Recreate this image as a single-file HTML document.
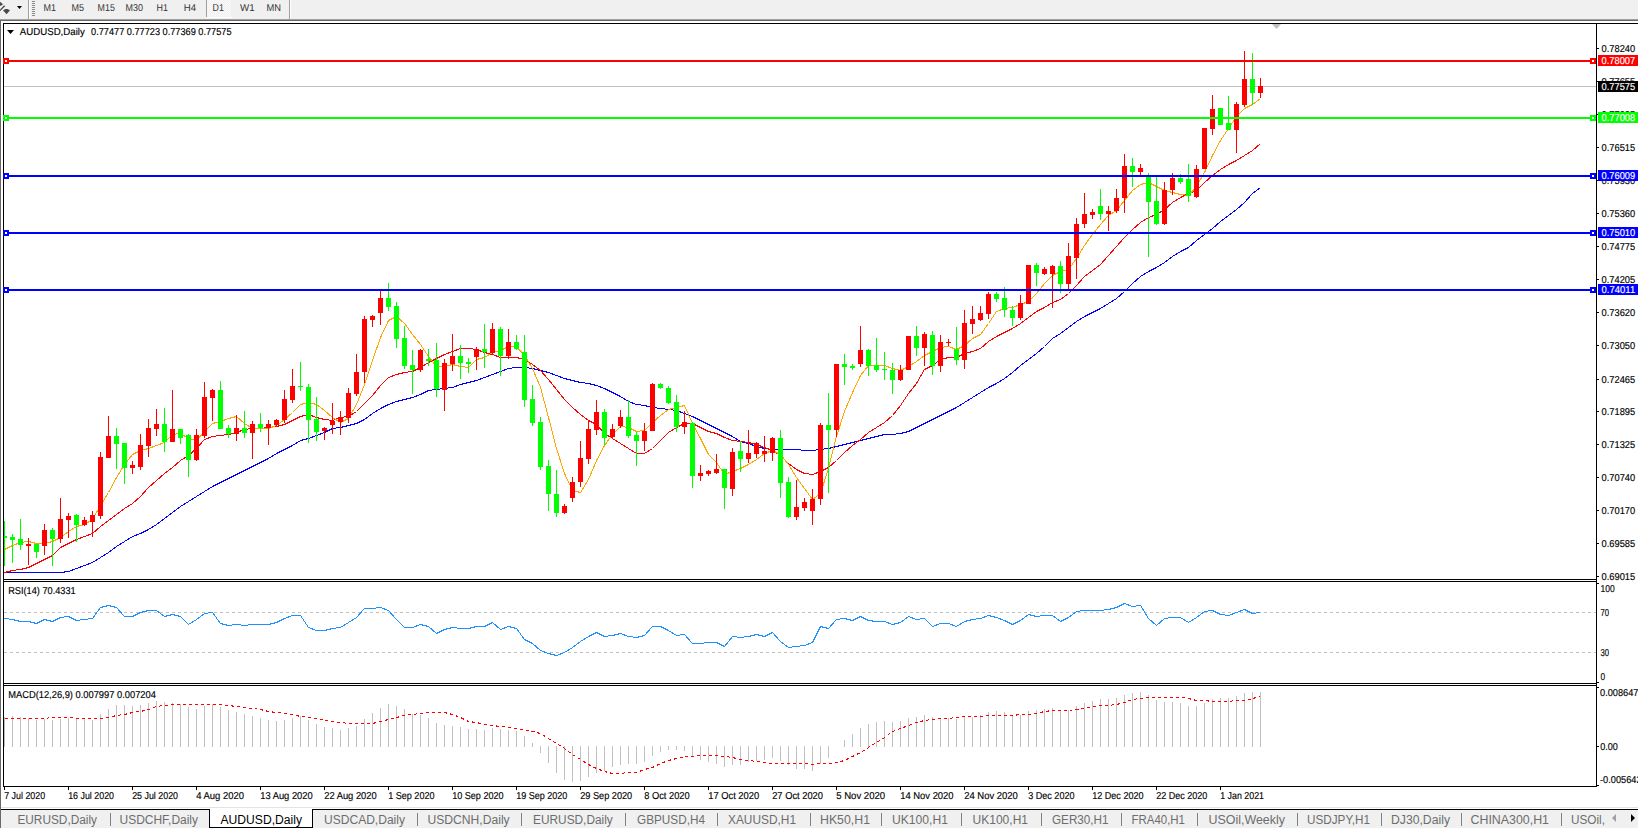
<!DOCTYPE html><html><head><meta charset="utf-8"><style>html,body{margin:0;padding:0;overflow:hidden;background:#f0f0f0;}svg{display:block;}text{font-family:"Liberation Sans", sans-serif;}</style></head><body>
<svg width="1638" height="828" viewBox="0 0 1638 828">
<defs><clipPath id="cm"><rect x="4" y="24" width="1592" height="555"/></clipPath><clipPath id="cr"><rect x="4" y="582" width="1592" height="101"/></clipPath><clipPath id="cd"><rect x="4" y="686" width="1592" height="100"/></clipPath><pattern id="dith" width="2" height="2" patternUnits="userSpaceOnUse"><rect width="2" height="2" fill="#f0f0f0"/><rect width="1" height="1" fill="#fafafa"/><rect x="1" y="1" width="1" height="1" fill="#fafafa"/></pattern></defs>
<g shape-rendering="crispEdges">
<rect x="0" y="0" width="1638" height="19" fill="#f0f0f0"/>
<rect x="0" y="19" width="1638" height="1" fill="#a0a0a0"/>
<rect x="0" y="20" width="1638" height="1" fill="#696969"/>
<path d="M0 1.8 L3 4.3 L1 5.8 L0 5.8 Z" fill="#4a4a4a" shape-rendering="auto"/>
<path d="M0 9.6 L4.2 5.2 L5.2 6.2 L0 11.2 Z" fill="#4a4a4a" shape-rendering="auto"/>
<path d="M3 10.2 L5.5 9 L7.5 9 L10 10.2 L6.5 14.2 Z" fill="#4a4a4a" shape-rendering="auto"/>
<path d="M17 6 L22 6 L19.5 9 Z" fill="#000" shape-rendering="auto"/>
<rect x="28" y="0" width="1" height="19" fill="#a0a0a0"/>
<rect x="29" y="0" width="1" height="19" fill="#ffffff"/>
<rect x="32" y="1" width="3" height="1" fill="#8c8c8c"/>
<rect x="32" y="3" width="3" height="1" fill="#8c8c8c"/>
<rect x="32" y="5" width="3" height="1" fill="#8c8c8c"/>
<rect x="32" y="7" width="3" height="1" fill="#8c8c8c"/>
<rect x="32" y="9" width="3" height="1" fill="#8c8c8c"/>
<rect x="32" y="11" width="3" height="1" fill="#8c8c8c"/>
<rect x="32" y="13" width="3" height="1" fill="#8c8c8c"/>
<rect x="32" y="15" width="3" height="1" fill="#8c8c8c"/>
<rect x="207" y="0" width="24" height="17" fill="url(#dith)"/>
<rect x="206" y="0" width="1" height="17" fill="#a0a0a0"/>
<rect x="206" y="17" width="26" height="1" fill="#ffffff"/>
<rect x="289" y="0" width="1" height="19" fill="#a0a0a0"/>
<rect x="290" y="0" width="1" height="19" fill="#ffffff"/>
</g>
<text x="43.4" y="11" font-size="10" fill="#333333" text-rendering="geometricPrecision" textLength="12.5" lengthAdjust="spacingAndGlyphs">M1</text>
<text x="71.4" y="11" font-size="10" fill="#333333" text-rendering="geometricPrecision" textLength="12.5" lengthAdjust="spacingAndGlyphs">M5</text>
<text x="97.6" y="11" font-size="10" fill="#333333" text-rendering="geometricPrecision" textLength="17.2" lengthAdjust="spacingAndGlyphs">M15</text>
<text x="125.5" y="11" font-size="10" fill="#333333" text-rendering="geometricPrecision" textLength="17.4" lengthAdjust="spacingAndGlyphs">M30</text>
<text x="156.6" y="11" font-size="10" fill="#333333" text-rendering="geometricPrecision" textLength="11.4" lengthAdjust="spacingAndGlyphs">H1</text>
<text x="183.7" y="11" font-size="10" fill="#333333" text-rendering="geometricPrecision" textLength="12.3" lengthAdjust="spacingAndGlyphs">H4</text>
<text x="212.5" y="11" font-size="10" fill="#333333" text-rendering="geometricPrecision" textLength="11.3" lengthAdjust="spacingAndGlyphs">D1</text>
<text x="240" y="11" font-size="10" fill="#333333" text-rendering="geometricPrecision" textLength="14.6" lengthAdjust="spacingAndGlyphs">W1</text>
<text x="266.5" y="11" font-size="10" fill="#333333" text-rendering="geometricPrecision" textLength="14.5" lengthAdjust="spacingAndGlyphs">MN</text>
<g shape-rendering="crispEdges">
<rect x="1" y="21" width="1637" height="787" fill="#ffffff"/>
<rect x="0" y="20" width="1" height="788" fill="#696969"/>
<rect x="1" y="807" width="1637" height="1" fill="#e3e3e3"/>
<rect x="3" y="23" width="1635" height="1" fill="#000"/>
<rect x="3" y="23" width="1" height="764" fill="#000"/>
<rect x="1596" y="23" width="1" height="764" fill="#000"/>
<rect x="3" y="579" width="1594" height="1" fill="#000"/>
<rect x="3" y="581" width="1594" height="1" fill="#000"/>
<rect x="3" y="683" width="1594" height="1" fill="#000"/>
<rect x="3" y="685" width="1594" height="1" fill="#000"/>
<rect x="3" y="786" width="1594" height="1" fill="#000"/>
</g>
<path d="M1272 24 L1281 24 L1276.5 29 Z" fill="#c0c0c0"/>
<g shape-rendering="crispEdges">
<g clip-path="url(#cm)">
<rect x="4" y="86" width="1592" height="1" fill="#c0c0c0"/>
<polyline points="4.5,572.5 12.5,572.5 20.5,572.5 28.5,572.5 36.5,572.5 44.5,572.5 52.5,572.5 60.5,572.5 68.5,571.5 76.5,568.5 84.5,565.5 92.5,562.5 100.5,557.5 108.5,552.5 116.5,546.5 124.5,541.5 132.5,536.5 140.5,533.5 148.5,529.5 156.5,524.5 164.5,518.5 172.5,512.5 180.5,506.5 188.5,501.5 196.5,496.5 204.5,491.5 212.5,486.5 220.5,482.5 228.5,478.5 236.5,474.5 244.5,470.5 252.5,466.5 260.5,462.5 268.5,458.5 276.5,453.5 284.5,449.5 292.5,445.5 300.5,440.5 308.5,438.5 316.5,435.5 324.5,432.5 332.5,428.5 340.5,427.5 348.5,425.5 356.5,423.5 364.5,419.5 372.5,413.5 380.5,408.5 388.5,404.5 396.5,401.5 404.5,399.5 412.5,397.5 420.5,394.5 428.5,390.5 436.5,389.5 444.5,388.5 452.5,387.5 460.5,384.5 468.5,382.5 476.5,380.5 484.5,377.5 492.5,374.5 500.5,371.5 508.5,368.5 516.5,367.5 524.5,367.5 532.5,368.5 540.5,370.5 548.5,372.5 556.5,375.5 564.5,378.5 572.5,380.5 580.5,382.5 588.5,383.5 596.5,385.5 604.5,388.5 612.5,392.5 620.5,396.5 628.5,401.5 636.5,404.5 644.5,405.5 652.5,407.5 660.5,408.5 668.5,409.5 676.5,410.5 684.5,413.5 692.5,416.5 700.5,420.5 708.5,424.5 716.5,428.5 724.5,432.5 732.5,436.5 740.5,441.5 748.5,443.5 756.5,446.5 764.5,448.5 772.5,449.5 780.5,449.5 788.5,449.5 796.5,449.5 804.5,450.5 812.5,450.5 820.5,449.5 828.5,448.5 836.5,446.5 844.5,444.5 852.5,442.5 860.5,440.5 868.5,438.5 876.5,436.5 884.5,434.5 892.5,434.5 900.5,433.5 908.5,431.5 916.5,427.5 924.5,423.5 932.5,419.5 940.5,415.5 948.5,411.5 956.5,407.5 964.5,402.5 972.5,397.5 980.5,392.5 988.5,387.5 996.5,383.5 1004.5,378.5 1012.5,372.5 1020.5,365.5 1028.5,359.5 1036.5,353.5 1044.5,346.5 1052.5,338.5 1060.5,333.5 1068.5,327.5 1076.5,321.5 1084.5,316.5 1092.5,312.5 1100.5,308.5 1108.5,303.5 1116.5,298.5 1124.5,291.5 1132.5,283.5 1140.5,276.5 1148.5,271.5 1156.5,267.5 1164.5,262.5 1172.5,256.5 1180.5,251.5 1188.5,247.5 1196.5,240.5 1204.5,234.5 1212.5,228.5 1220.5,221.5 1228.5,215.5 1236.5,209.5 1244.5,202.5 1252.5,193.5 1260.5,187.5" fill="none" stroke="#0000ff" stroke-width="1"/>
<polyline points="4.5,572.5 12.5,570.5 20.5,569.5 28.5,567.5 36.5,563.5 44.5,559.5 52.5,555.5 60.5,547.5 68.5,543.5 76.5,539.5 84.5,536.5 92.5,533.5 100.5,526.5 108.5,520.5 116.5,514.5 124.5,508.5 132.5,503.5 140.5,496.5 148.5,487.5 156.5,480.5 164.5,473.5 172.5,467.5 180.5,460.5 188.5,455.5 196.5,448.5 204.5,439.5 212.5,436.5 220.5,435.5 228.5,434.5 236.5,432.5 244.5,429.5 252.5,428.5 260.5,428.5 268.5,427.5 276.5,426.5 284.5,424.5 292.5,420.5 300.5,416.5 308.5,414.5 316.5,417.5 324.5,419.5 332.5,420.5 340.5,417.5 348.5,416.5 356.5,411.5 364.5,403.5 372.5,395.5 380.5,385.5 388.5,377.5 396.5,374.5 404.5,372.5 412.5,371.5 420.5,367.5 428.5,362.5 436.5,358.5 444.5,354.5 452.5,351.5 460.5,348.5 468.5,348.5 476.5,349.5 484.5,352.5 492.5,354.5 500.5,357.5 508.5,357.5 516.5,357.5 524.5,359.5 532.5,364.5 540.5,370.5 548.5,379.5 556.5,389.5 564.5,399.5 572.5,407.5 580.5,414.5 588.5,420.5 596.5,424.5 604.5,433.5 612.5,438.5 620.5,443.5 628.5,448.5 636.5,453.5 644.5,453.5 652.5,448.5 660.5,440.5 668.5,432.5 676.5,427.5 684.5,423.5 692.5,423.5 700.5,427.5 708.5,431.5 716.5,433.5 724.5,437.5 732.5,440.5 740.5,441.5 748.5,442.5 756.5,444.5 764.5,447.5 772.5,450.5 780.5,455.5 788.5,463.5 796.5,469.5 804.5,473.5 812.5,474.5 820.5,471.5 828.5,467.5 836.5,460.5 844.5,452.5 852.5,445.5 860.5,439.5 868.5,432.5 876.5,427.5 884.5,422.5 892.5,415.5 900.5,405.5 908.5,393.5 916.5,383.5 924.5,369.5 932.5,365.5 940.5,359.5 948.5,357.5 956.5,357.5 964.5,353.5 972.5,351.5 980.5,348.5 988.5,341.5 996.5,336.5 1004.5,332.5 1012.5,328.5 1020.5,323.5 1028.5,317.5 1036.5,311.5 1044.5,307.5 1052.5,302.5 1060.5,299.5 1068.5,293.5 1076.5,285.5 1084.5,276.5 1092.5,270.5 1100.5,264.5 1108.5,255.5 1116.5,246.5 1124.5,237.5 1132.5,229.5 1140.5,222.5 1148.5,217.5 1156.5,214.5 1164.5,209.5 1172.5,202.5 1180.5,197.5 1188.5,193.5 1196.5,190.5 1204.5,182.5 1212.5,175.5 1220.5,169.5 1228.5,164.5 1236.5,160.5 1244.5,155.5 1252.5,150.5 1260.5,143.5" fill="none" stroke="#ff0000" stroke-width="1"/>
<polyline points="4.5,549.5 12.5,545.5 20.5,542.5 28.5,541.5 36.5,543.5 44.5,543.5 52.5,541.5 60.5,537.5 68.5,531.5 76.5,526.5 84.5,524.5 92.5,519.5 100.5,505.5 108.5,492.5 116.5,477.5 124.5,464.5 132.5,454.5 140.5,450.5 148.5,448.5 156.5,445.5 164.5,442.5 172.5,434.5 180.5,433.5 188.5,438.5 196.5,440.5 204.5,431.5 212.5,423.5 220.5,421.5 228.5,418.5 236.5,416.5 244.5,423.5 252.5,428.5 260.5,428.5 268.5,428.5 276.5,425.5 284.5,419.5 292.5,412.5 300.5,404.5 308.5,402.5 316.5,404.5 324.5,410.5 332.5,417.5 340.5,422.5 348.5,418.5 356.5,404.5 364.5,384.5 372.5,360.5 380.5,337.5 388.5,320.5 396.5,316.5 404.5,323.5 412.5,334.5 420.5,344.5 428.5,356.5 436.5,366.5 444.5,366.5 452.5,364.5 460.5,366.5 468.5,367.5 476.5,359.5 484.5,357.5 492.5,352.5 500.5,350.5 508.5,346.5 516.5,346.5 524.5,355.5 532.5,368.5 540.5,387.5 548.5,417.5 556.5,448.5 564.5,473.5 572.5,490.5 580.5,492.5 588.5,479.5 596.5,460.5 604.5,445.5 612.5,434.5 620.5,426.5 628.5,427.5 636.5,431.5 644.5,430.5 652.5,422.5 660.5,415.5 668.5,409.5 676.5,407.5 684.5,405.5 692.5,423.5 700.5,438.5 708.5,454.5 716.5,462.5 724.5,474.5 732.5,471.5 740.5,468.5 748.5,464.5 756.5,459.5 764.5,453.5 772.5,450.5 780.5,454.5 788.5,464.5 796.5,477.5 804.5,488.5 812.5,499.5 820.5,493.5 828.5,468.5 836.5,436.5 844.5,411.5 852.5,392.5 860.5,375.5 868.5,365.5 876.5,365.5 884.5,365.5 892.5,368.5 900.5,370.5 908.5,366.5 916.5,361.5 924.5,355.5 932.5,351.5 940.5,347.5 948.5,346.5 956.5,349.5 964.5,345.5 972.5,338.5 980.5,334.5 988.5,323.5 996.5,311.5 1004.5,308.5 1012.5,307.5 1020.5,304.5 1028.5,301.5 1036.5,293.5 1044.5,283.5 1052.5,275.5 1060.5,271.5 1068.5,269.5 1076.5,258.5 1084.5,245.5 1092.5,234.5 1100.5,224.5 1108.5,215.5 1116.5,210.5 1124.5,200.5 1132.5,190.5 1140.5,184.5 1148.5,182.5 1156.5,186.5 1164.5,190.5 1172.5,192.5 1180.5,194.5 1188.5,195.5 1196.5,186.5 1204.5,172.5 1212.5,155.5 1220.5,140.5 1228.5,128.5 1236.5,116.5 1244.5,108.5 1252.5,104.5 1260.5,98.5" fill="none" stroke="#ffa500" stroke-width="1"/>
<rect x="4" y="521" width="1" height="45" fill="#00ff00"/>
<rect x="2" y="536" width="5" height="2" fill="#00ff00"/>
<rect x="12" y="534" width="1" height="29" fill="#00ff00"/>
<rect x="10" y="537" width="5" height="3" fill="#00ff00"/>
<rect x="20" y="519" width="1" height="31" fill="#00ff00"/>
<rect x="18" y="539" width="5" height="6" fill="#00ff00"/>
<rect x="28" y="538" width="1" height="27" fill="#ff0000"/>
<rect x="26" y="544" width="5" height="2" fill="#ff0000"/>
<rect x="36" y="544" width="1" height="14" fill="#00ff00"/>
<rect x="34" y="544" width="5" height="8" fill="#00ff00"/>
<rect x="44" y="524" width="1" height="31" fill="#ff0000"/>
<rect x="42" y="530" width="5" height="16" fill="#ff0000"/>
<rect x="52" y="528" width="1" height="38" fill="#00ff00"/>
<rect x="50" y="530" width="5" height="9" fill="#00ff00"/>
<rect x="60" y="498" width="1" height="45" fill="#ff0000"/>
<rect x="58" y="519" width="5" height="20" fill="#ff0000"/>
<rect x="68" y="513" width="1" height="25" fill="#ff0000"/>
<rect x="66" y="516" width="5" height="4" fill="#ff0000"/>
<rect x="76" y="514" width="1" height="28" fill="#00ff00"/>
<rect x="74" y="515" width="5" height="10" fill="#00ff00"/>
<rect x="84" y="517" width="1" height="9" fill="#ff0000"/>
<rect x="82" y="520" width="5" height="5" fill="#ff0000"/>
<rect x="92" y="511" width="1" height="26" fill="#ff0000"/>
<rect x="90" y="515" width="5" height="7" fill="#ff0000"/>
<rect x="100" y="452" width="1" height="67" fill="#ff0000"/>
<rect x="98" y="457" width="5" height="59" fill="#ff0000"/>
<rect x="108" y="416" width="1" height="42" fill="#ff0000"/>
<rect x="106" y="436" width="5" height="22" fill="#ff0000"/>
<rect x="116" y="428" width="1" height="41" fill="#00ff00"/>
<rect x="114" y="436" width="5" height="8" fill="#00ff00"/>
<rect x="124" y="443" width="1" height="41" fill="#00ff00"/>
<rect x="122" y="443" width="5" height="25" fill="#00ff00"/>
<rect x="132" y="461" width="1" height="13" fill="#ff0000"/>
<rect x="130" y="465" width="5" height="3" fill="#ff0000"/>
<rect x="140" y="434" width="1" height="36" fill="#ff0000"/>
<rect x="138" y="445" width="5" height="22" fill="#ff0000"/>
<rect x="148" y="419" width="1" height="38" fill="#ff0000"/>
<rect x="146" y="428" width="5" height="18" fill="#ff0000"/>
<rect x="156" y="409" width="1" height="27" fill="#ff0000"/>
<rect x="154" y="424" width="5" height="5" fill="#ff0000"/>
<rect x="164" y="408" width="1" height="44" fill="#00ff00"/>
<rect x="162" y="424" width="5" height="18" fill="#00ff00"/>
<rect x="172" y="390" width="1" height="52" fill="#ff0000"/>
<rect x="170" y="429" width="5" height="13" fill="#ff0000"/>
<rect x="180" y="429" width="1" height="15" fill="#00ff00"/>
<rect x="178" y="429" width="5" height="9" fill="#00ff00"/>
<rect x="188" y="434" width="1" height="43" fill="#00ff00"/>
<rect x="186" y="435" width="5" height="25" fill="#00ff00"/>
<rect x="196" y="429" width="1" height="32" fill="#ff0000"/>
<rect x="194" y="435" width="5" height="25" fill="#ff0000"/>
<rect x="204" y="382" width="1" height="56" fill="#ff0000"/>
<rect x="202" y="397" width="5" height="39" fill="#ff0000"/>
<rect x="212" y="389" width="1" height="32" fill="#ff0000"/>
<rect x="210" y="390" width="5" height="8" fill="#ff0000"/>
<rect x="220" y="381" width="1" height="48" fill="#00ff00"/>
<rect x="218" y="390" width="5" height="39" fill="#00ff00"/>
<rect x="228" y="425" width="1" height="13" fill="#00ff00"/>
<rect x="226" y="428" width="5" height="6" fill="#00ff00"/>
<rect x="236" y="415" width="1" height="26" fill="#ff0000"/>
<rect x="234" y="428" width="5" height="6" fill="#ff0000"/>
<rect x="244" y="411" width="1" height="27" fill="#00ff00"/>
<rect x="242" y="428" width="5" height="5" fill="#00ff00"/>
<rect x="252" y="421" width="1" height="38" fill="#ff0000"/>
<rect x="250" y="424" width="5" height="9" fill="#ff0000"/>
<rect x="260" y="413" width="1" height="19" fill="#00ff00"/>
<rect x="258" y="424" width="5" height="4" fill="#00ff00"/>
<rect x="268" y="420" width="1" height="25" fill="#ff0000"/>
<rect x="266" y="424" width="5" height="4" fill="#ff0000"/>
<rect x="276" y="419" width="1" height="7" fill="#ff0000"/>
<rect x="274" y="420" width="5" height="5" fill="#ff0000"/>
<rect x="284" y="390" width="1" height="33" fill="#ff0000"/>
<rect x="282" y="399" width="5" height="21" fill="#ff0000"/>
<rect x="292" y="369" width="1" height="34" fill="#ff0000"/>
<rect x="290" y="386" width="5" height="14" fill="#ff0000"/>
<rect x="300" y="362" width="1" height="29" fill="#00ff00"/>
<rect x="298" y="386" width="5" height="1" fill="#00ff00"/>
<rect x="308" y="384" width="1" height="59" fill="#00ff00"/>
<rect x="306" y="387" width="5" height="33" fill="#00ff00"/>
<rect x="316" y="397" width="1" height="44" fill="#00ff00"/>
<rect x="314" y="419" width="5" height="13" fill="#00ff00"/>
<rect x="324" y="427" width="1" height="13" fill="#ff0000"/>
<rect x="322" y="428" width="5" height="3" fill="#ff0000"/>
<rect x="332" y="403" width="1" height="31" fill="#ff0000"/>
<rect x="330" y="421" width="5" height="4" fill="#ff0000"/>
<rect x="340" y="411" width="1" height="24" fill="#ff0000"/>
<rect x="338" y="417" width="5" height="5" fill="#ff0000"/>
<rect x="348" y="388" width="1" height="35" fill="#ff0000"/>
<rect x="346" y="393" width="5" height="25" fill="#ff0000"/>
<rect x="356" y="354" width="1" height="42" fill="#ff0000"/>
<rect x="354" y="372" width="5" height="22" fill="#ff0000"/>
<rect x="364" y="316" width="1" height="67" fill="#ff0000"/>
<rect x="362" y="319" width="5" height="53" fill="#ff0000"/>
<rect x="372" y="315" width="1" height="12" fill="#ff0000"/>
<rect x="370" y="316" width="5" height="4" fill="#ff0000"/>
<rect x="380" y="291" width="1" height="34" fill="#ff0000"/>
<rect x="378" y="298" width="5" height="15" fill="#ff0000"/>
<rect x="388" y="283" width="1" height="28" fill="#00ff00"/>
<rect x="386" y="298" width="5" height="9" fill="#00ff00"/>
<rect x="396" y="302" width="1" height="46" fill="#00ff00"/>
<rect x="394" y="306" width="5" height="33" fill="#00ff00"/>
<rect x="404" y="326" width="1" height="43" fill="#00ff00"/>
<rect x="402" y="338" width="5" height="28" fill="#00ff00"/>
<rect x="412" y="350" width="1" height="44" fill="#00ff00"/>
<rect x="410" y="365" width="5" height="5" fill="#00ff00"/>
<rect x="420" y="349" width="1" height="23" fill="#ff0000"/>
<rect x="418" y="350" width="5" height="20" fill="#ff0000"/>
<rect x="428" y="349" width="1" height="17" fill="#00ff00"/>
<rect x="426" y="359" width="5" height="2" fill="#00ff00"/>
<rect x="436" y="343" width="1" height="54" fill="#00ff00"/>
<rect x="434" y="360" width="5" height="29" fill="#00ff00"/>
<rect x="444" y="359" width="1" height="52" fill="#ff0000"/>
<rect x="442" y="363" width="5" height="27" fill="#ff0000"/>
<rect x="452" y="334" width="1" height="37" fill="#ff0000"/>
<rect x="450" y="356" width="5" height="8" fill="#ff0000"/>
<rect x="460" y="345" width="1" height="34" fill="#00ff00"/>
<rect x="458" y="356" width="5" height="7" fill="#00ff00"/>
<rect x="468" y="358" width="1" height="15" fill="#00ff00"/>
<rect x="466" y="362" width="5" height="2" fill="#00ff00"/>
<rect x="476" y="347" width="1" height="23" fill="#ff0000"/>
<rect x="474" y="349" width="5" height="8" fill="#ff0000"/>
<rect x="484" y="324" width="1" height="44" fill="#00ff00"/>
<rect x="482" y="349" width="5" height="3" fill="#00ff00"/>
<rect x="492" y="323" width="1" height="32" fill="#ff0000"/>
<rect x="490" y="329" width="5" height="24" fill="#ff0000"/>
<rect x="500" y="327" width="1" height="49" fill="#00ff00"/>
<rect x="498" y="329" width="5" height="27" fill="#00ff00"/>
<rect x="508" y="329" width="1" height="30" fill="#ff0000"/>
<rect x="506" y="342" width="5" height="14" fill="#ff0000"/>
<rect x="516" y="335" width="1" height="15" fill="#00ff00"/>
<rect x="514" y="342" width="5" height="7" fill="#00ff00"/>
<rect x="524" y="335" width="1" height="72" fill="#00ff00"/>
<rect x="522" y="352" width="5" height="48" fill="#00ff00"/>
<rect x="532" y="385" width="1" height="41" fill="#00ff00"/>
<rect x="530" y="399" width="5" height="24" fill="#00ff00"/>
<rect x="540" y="417" width="1" height="53" fill="#00ff00"/>
<rect x="538" y="422" width="5" height="45" fill="#00ff00"/>
<rect x="548" y="460" width="1" height="51" fill="#00ff00"/>
<rect x="546" y="466" width="5" height="28" fill="#00ff00"/>
<rect x="556" y="470" width="1" height="47" fill="#00ff00"/>
<rect x="554" y="494" width="5" height="19" fill="#00ff00"/>
<rect x="564" y="504" width="1" height="10" fill="#ff0000"/>
<rect x="562" y="506" width="5" height="7" fill="#ff0000"/>
<rect x="572" y="477" width="1" height="25" fill="#ff0000"/>
<rect x="570" y="482" width="5" height="16" fill="#ff0000"/>
<rect x="580" y="441" width="1" height="46" fill="#ff0000"/>
<rect x="578" y="458" width="5" height="24" fill="#ff0000"/>
<rect x="588" y="421" width="1" height="43" fill="#ff0000"/>
<rect x="586" y="429" width="5" height="30" fill="#ff0000"/>
<rect x="596" y="400" width="1" height="35" fill="#ff0000"/>
<rect x="594" y="412" width="5" height="18" fill="#ff0000"/>
<rect x="604" y="409" width="1" height="36" fill="#00ff00"/>
<rect x="602" y="412" width="5" height="26" fill="#00ff00"/>
<rect x="612" y="424" width="1" height="14" fill="#ff0000"/>
<rect x="610" y="429" width="5" height="8" fill="#ff0000"/>
<rect x="620" y="410" width="1" height="18" fill="#ff0000"/>
<rect x="618" y="417" width="5" height="9" fill="#ff0000"/>
<rect x="628" y="400" width="1" height="38" fill="#00ff00"/>
<rect x="626" y="417" width="5" height="19" fill="#00ff00"/>
<rect x="636" y="432" width="1" height="34" fill="#00ff00"/>
<rect x="634" y="435" width="5" height="6" fill="#00ff00"/>
<rect x="644" y="423" width="1" height="28" fill="#ff0000"/>
<rect x="642" y="431" width="5" height="10" fill="#ff0000"/>
<rect x="652" y="383" width="1" height="48" fill="#ff0000"/>
<rect x="650" y="384" width="5" height="47" fill="#ff0000"/>
<rect x="660" y="383" width="1" height="6" fill="#00ff00"/>
<rect x="658" y="384" width="5" height="4" fill="#00ff00"/>
<rect x="668" y="386" width="1" height="18" fill="#00ff00"/>
<rect x="666" y="388" width="5" height="15" fill="#00ff00"/>
<rect x="676" y="395" width="1" height="37" fill="#00ff00"/>
<rect x="674" y="402" width="5" height="25" fill="#00ff00"/>
<rect x="684" y="411" width="1" height="23" fill="#ff0000"/>
<rect x="682" y="422" width="5" height="5" fill="#ff0000"/>
<rect x="692" y="422" width="1" height="66" fill="#00ff00"/>
<rect x="690" y="423" width="5" height="53" fill="#00ff00"/>
<rect x="700" y="465" width="1" height="16" fill="#ff0000"/>
<rect x="698" y="473" width="5" height="3" fill="#ff0000"/>
<rect x="708" y="470" width="1" height="6" fill="#ff0000"/>
<rect x="706" y="471" width="5" height="3" fill="#ff0000"/>
<rect x="716" y="454" width="1" height="20" fill="#ff0000"/>
<rect x="714" y="469" width="5" height="4" fill="#ff0000"/>
<rect x="724" y="469" width="1" height="40" fill="#00ff00"/>
<rect x="722" y="469" width="5" height="19" fill="#00ff00"/>
<rect x="732" y="448" width="1" height="48" fill="#ff0000"/>
<rect x="730" y="452" width="5" height="37" fill="#ff0000"/>
<rect x="740" y="441" width="1" height="31" fill="#00ff00"/>
<rect x="738" y="451" width="5" height="8" fill="#00ff00"/>
<rect x="748" y="430" width="1" height="33" fill="#ff0000"/>
<rect x="746" y="453" width="5" height="6" fill="#ff0000"/>
<rect x="756" y="442" width="1" height="16" fill="#ff0000"/>
<rect x="754" y="443" width="5" height="11" fill="#ff0000"/>
<rect x="764" y="436" width="1" height="26" fill="#ff0000"/>
<rect x="762" y="451" width="5" height="3" fill="#ff0000"/>
<rect x="772" y="437" width="1" height="24" fill="#ff0000"/>
<rect x="770" y="438" width="5" height="15" fill="#ff0000"/>
<rect x="780" y="430" width="1" height="68" fill="#00ff00"/>
<rect x="778" y="438" width="5" height="45" fill="#00ff00"/>
<rect x="788" y="477" width="1" height="41" fill="#00ff00"/>
<rect x="786" y="482" width="5" height="35" fill="#00ff00"/>
<rect x="796" y="480" width="1" height="40" fill="#ff0000"/>
<rect x="794" y="507" width="5" height="10" fill="#ff0000"/>
<rect x="804" y="498" width="1" height="13" fill="#ff0000"/>
<rect x="802" y="502" width="5" height="6" fill="#ff0000"/>
<rect x="812" y="489" width="1" height="36" fill="#ff0000"/>
<rect x="810" y="499" width="5" height="12" fill="#ff0000"/>
<rect x="820" y="423" width="1" height="82" fill="#ff0000"/>
<rect x="818" y="425" width="5" height="74" fill="#ff0000"/>
<rect x="828" y="393" width="1" height="100" fill="#00ff00"/>
<rect x="826" y="425" width="5" height="5" fill="#00ff00"/>
<rect x="836" y="364" width="1" height="73" fill="#ff0000"/>
<rect x="834" y="364" width="5" height="66" fill="#ff0000"/>
<rect x="844" y="354" width="1" height="31" fill="#00ff00"/>
<rect x="842" y="364" width="5" height="3" fill="#00ff00"/>
<rect x="852" y="364" width="1" height="6" fill="#00ff00"/>
<rect x="850" y="366" width="5" height="2" fill="#00ff00"/>
<rect x="860" y="326" width="1" height="41" fill="#ff0000"/>
<rect x="858" y="350" width="5" height="14" fill="#ff0000"/>
<rect x="868" y="349" width="1" height="27" fill="#00ff00"/>
<rect x="866" y="350" width="5" height="16" fill="#00ff00"/>
<rect x="876" y="338" width="1" height="34" fill="#00ff00"/>
<rect x="874" y="365" width="5" height="5" fill="#00ff00"/>
<rect x="884" y="352" width="1" height="28" fill="#00ff00"/>
<rect x="882" y="369" width="5" height="1" fill="#00ff00"/>
<rect x="892" y="363" width="1" height="31" fill="#00ff00"/>
<rect x="890" y="370" width="5" height="10" fill="#00ff00"/>
<rect x="900" y="365" width="1" height="16" fill="#ff0000"/>
<rect x="898" y="370" width="5" height="10" fill="#ff0000"/>
<rect x="908" y="336" width="1" height="34" fill="#ff0000"/>
<rect x="906" y="336" width="5" height="34" fill="#ff0000"/>
<rect x="916" y="326" width="1" height="30" fill="#00ff00"/>
<rect x="914" y="336" width="5" height="12" fill="#00ff00"/>
<rect x="924" y="332" width="1" height="34" fill="#ff0000"/>
<rect x="922" y="334" width="5" height="14" fill="#ff0000"/>
<rect x="932" y="331" width="1" height="44" fill="#00ff00"/>
<rect x="930" y="335" width="5" height="31" fill="#00ff00"/>
<rect x="940" y="335" width="1" height="37" fill="#ff0000"/>
<rect x="938" y="342" width="5" height="24" fill="#ff0000"/>
<rect x="948" y="339" width="1" height="7" fill="#ff0000"/>
<rect x="946" y="342" width="5" height="1" fill="#ff0000"/>
<rect x="956" y="327" width="1" height="38" fill="#00ff00"/>
<rect x="954" y="349" width="5" height="11" fill="#00ff00"/>
<rect x="964" y="310" width="1" height="59" fill="#ff0000"/>
<rect x="962" y="323" width="5" height="37" fill="#ff0000"/>
<rect x="972" y="306" width="1" height="28" fill="#ff0000"/>
<rect x="970" y="319" width="5" height="5" fill="#ff0000"/>
<rect x="980" y="306" width="1" height="15" fill="#ff0000"/>
<rect x="978" y="313" width="5" height="7" fill="#ff0000"/>
<rect x="988" y="292" width="1" height="27" fill="#ff0000"/>
<rect x="986" y="294" width="5" height="20" fill="#ff0000"/>
<rect x="996" y="292" width="1" height="10" fill="#00ff00"/>
<rect x="994" y="294" width="5" height="5" fill="#00ff00"/>
<rect x="1004" y="287" width="1" height="30" fill="#00ff00"/>
<rect x="1002" y="298" width="5" height="12" fill="#00ff00"/>
<rect x="1012" y="306" width="1" height="20" fill="#00ff00"/>
<rect x="1010" y="310" width="5" height="8" fill="#00ff00"/>
<rect x="1020" y="295" width="1" height="25" fill="#ff0000"/>
<rect x="1018" y="303" width="5" height="15" fill="#ff0000"/>
<rect x="1028" y="265" width="1" height="39" fill="#ff0000"/>
<rect x="1026" y="265" width="5" height="39" fill="#ff0000"/>
<rect x="1036" y="263" width="1" height="23" fill="#00ff00"/>
<rect x="1034" y="265" width="5" height="8" fill="#00ff00"/>
<rect x="1044" y="267" width="1" height="8" fill="#ff0000"/>
<rect x="1042" y="269" width="5" height="5" fill="#ff0000"/>
<rect x="1052" y="265" width="1" height="43" fill="#ff0000"/>
<rect x="1050" y="266" width="5" height="8" fill="#ff0000"/>
<rect x="1060" y="261" width="1" height="32" fill="#00ff00"/>
<rect x="1058" y="266" width="5" height="18" fill="#00ff00"/>
<rect x="1068" y="243" width="1" height="46" fill="#ff0000"/>
<rect x="1066" y="256" width="5" height="28" fill="#ff0000"/>
<rect x="1076" y="218" width="1" height="61" fill="#ff0000"/>
<rect x="1074" y="224" width="5" height="34" fill="#ff0000"/>
<rect x="1084" y="193" width="1" height="35" fill="#ff0000"/>
<rect x="1082" y="214" width="5" height="10" fill="#ff0000"/>
<rect x="1092" y="209" width="1" height="10" fill="#ff0000"/>
<rect x="1090" y="212" width="5" height="3" fill="#ff0000"/>
<rect x="1100" y="189" width="1" height="31" fill="#00ff00"/>
<rect x="1098" y="206" width="5" height="8" fill="#00ff00"/>
<rect x="1108" y="206" width="1" height="25" fill="#ff0000"/>
<rect x="1106" y="211" width="5" height="3" fill="#ff0000"/>
<rect x="1116" y="189" width="1" height="24" fill="#ff0000"/>
<rect x="1114" y="198" width="5" height="13" fill="#ff0000"/>
<rect x="1124" y="154" width="1" height="59" fill="#ff0000"/>
<rect x="1122" y="166" width="5" height="32" fill="#ff0000"/>
<rect x="1132" y="158" width="1" height="29" fill="#00ff00"/>
<rect x="1130" y="166" width="5" height="6" fill="#00ff00"/>
<rect x="1140" y="164" width="1" height="11" fill="#ff0000"/>
<rect x="1138" y="168" width="5" height="4" fill="#ff0000"/>
<rect x="1148" y="173" width="1" height="84" fill="#00ff00"/>
<rect x="1146" y="176" width="5" height="26" fill="#00ff00"/>
<rect x="1156" y="177" width="1" height="48" fill="#00ff00"/>
<rect x="1154" y="201" width="5" height="23" fill="#00ff00"/>
<rect x="1164" y="182" width="1" height="43" fill="#ff0000"/>
<rect x="1162" y="190" width="5" height="34" fill="#ff0000"/>
<rect x="1172" y="173" width="1" height="22" fill="#ff0000"/>
<rect x="1170" y="178" width="5" height="12" fill="#ff0000"/>
<rect x="1180" y="174" width="1" height="10" fill="#00ff00"/>
<rect x="1178" y="178" width="5" height="4" fill="#00ff00"/>
<rect x="1188" y="164" width="1" height="38" fill="#00ff00"/>
<rect x="1186" y="179" width="5" height="17" fill="#00ff00"/>
<rect x="1196" y="165" width="1" height="33" fill="#ff0000"/>
<rect x="1194" y="169" width="5" height="28" fill="#ff0000"/>
<rect x="1204" y="128" width="1" height="41" fill="#ff0000"/>
<rect x="1202" y="128" width="5" height="41" fill="#ff0000"/>
<rect x="1212" y="95" width="1" height="40" fill="#ff0000"/>
<rect x="1210" y="109" width="5" height="20" fill="#ff0000"/>
<rect x="1220" y="108" width="1" height="17" fill="#00ff00"/>
<rect x="1218" y="108" width="5" height="17" fill="#00ff00"/>
<rect x="1228" y="96" width="1" height="34" fill="#00ff00"/>
<rect x="1226" y="123" width="5" height="7" fill="#00ff00"/>
<rect x="1236" y="102" width="1" height="51" fill="#ff0000"/>
<rect x="1234" y="104" width="5" height="26" fill="#ff0000"/>
<rect x="1244" y="51" width="1" height="56" fill="#ff0000"/>
<rect x="1242" y="79" width="5" height="26" fill="#ff0000"/>
<rect x="1252" y="53" width="1" height="52" fill="#00ff00"/>
<rect x="1250" y="79" width="5" height="14" fill="#00ff00"/>
<rect x="1260" y="78" width="1" height="20" fill="#ff0000"/>
<rect x="1258" y="86" width="5" height="7" fill="#ff0000"/>
<rect x="4" y="60" width="1592" height="2" fill="#ff0000"/>
<rect x="4" y="117" width="1592" height="2" fill="#00ff00"/>
<rect x="4" y="175" width="1592" height="2" fill="#0000ff"/>
<rect x="4" y="232" width="1592" height="2" fill="#0000ff"/>
<rect x="4" y="289" width="1592" height="2" fill="#0000ff"/>
</g>
<rect x="1590" y="58" width="6" height="6" fill="#ff0000"/>
<rect x="1592" y="60" width="2" height="2" fill="#ffffff"/>
<rect x="3" y="58" width="6" height="6" fill="#ff0000"/>
<rect x="5" y="60" width="2" height="2" fill="#ffffff"/>
<rect x="1590" y="115" width="6" height="6" fill="#00ff00"/>
<rect x="1592" y="117" width="2" height="2" fill="#ffffff"/>
<rect x="3" y="115" width="6" height="6" fill="#00ff00"/>
<rect x="5" y="117" width="2" height="2" fill="#ffffff"/>
<rect x="1590" y="173" width="6" height="6" fill="#0000ff"/>
<rect x="1592" y="175" width="2" height="2" fill="#ffffff"/>
<rect x="3" y="173" width="6" height="6" fill="#0000ff"/>
<rect x="5" y="175" width="2" height="2" fill="#ffffff"/>
<rect x="1590" y="230" width="6" height="6" fill="#0000ff"/>
<rect x="1592" y="232" width="2" height="2" fill="#ffffff"/>
<rect x="3" y="230" width="6" height="6" fill="#0000ff"/>
<rect x="5" y="232" width="2" height="2" fill="#ffffff"/>
<rect x="1590" y="287" width="6" height="6" fill="#0000ff"/>
<rect x="1592" y="289" width="2" height="2" fill="#ffffff"/>
<rect x="3" y="287" width="6" height="6" fill="#0000ff"/>
<rect x="5" y="289" width="2" height="2" fill="#ffffff"/>
<rect x="1597" y="48" width="2" height="1" fill="#000"/>
<rect x="1597" y="81" width="2" height="1" fill="#000"/>
<rect x="1597" y="114" width="2" height="1" fill="#000"/>
<rect x="1597" y="147" width="2" height="1" fill="#000"/>
<rect x="1597" y="180" width="2" height="1" fill="#000"/>
<rect x="1597" y="213" width="2" height="1" fill="#000"/>
<rect x="1597" y="246" width="2" height="1" fill="#000"/>
<rect x="1597" y="279" width="2" height="1" fill="#000"/>
<rect x="1597" y="312" width="2" height="1" fill="#000"/>
<rect x="1597" y="345" width="2" height="1" fill="#000"/>
<rect x="1597" y="379" width="2" height="1" fill="#000"/>
<rect x="1597" y="411" width="2" height="1" fill="#000"/>
<rect x="1597" y="444" width="2" height="1" fill="#000"/>
<rect x="1597" y="477" width="2" height="1" fill="#000"/>
<rect x="1597" y="510" width="2" height="1" fill="#000"/>
<rect x="1597" y="543" width="2" height="1" fill="#000"/>
<rect x="1597" y="576" width="2" height="1" fill="#000"/>
</g>
<text x="1601.6" y="52" font-size="10" fill="#000" text-rendering="geometricPrecision" stroke="#000" stroke-width="0.15" textLength="33.6" lengthAdjust="spacingAndGlyphs">0.78240</text>
<text x="1601.6" y="85" font-size="10" fill="#000" text-rendering="geometricPrecision" stroke="#000" stroke-width="0.15" textLength="33.6" lengthAdjust="spacingAndGlyphs">0.77655</text>
<text x="1601.6" y="118" font-size="10" fill="#000" text-rendering="geometricPrecision" stroke="#000" stroke-width="0.15" textLength="33.6" lengthAdjust="spacingAndGlyphs">0.77085</text>
<text x="1601.6" y="151" font-size="10" fill="#000" text-rendering="geometricPrecision" stroke="#000" stroke-width="0.15" textLength="33.6" lengthAdjust="spacingAndGlyphs">0.76515</text>
<text x="1601.6" y="184" font-size="10" fill="#000" text-rendering="geometricPrecision" stroke="#000" stroke-width="0.15" textLength="33.6" lengthAdjust="spacingAndGlyphs">0.75930</text>
<text x="1601.6" y="217" font-size="10" fill="#000" text-rendering="geometricPrecision" stroke="#000" stroke-width="0.15" textLength="33.6" lengthAdjust="spacingAndGlyphs">0.75360</text>
<text x="1601.6" y="250" font-size="10" fill="#000" text-rendering="geometricPrecision" stroke="#000" stroke-width="0.15" textLength="33.6" lengthAdjust="spacingAndGlyphs">0.74775</text>
<text x="1601.6" y="283" font-size="10" fill="#000" text-rendering="geometricPrecision" stroke="#000" stroke-width="0.15" textLength="33.6" lengthAdjust="spacingAndGlyphs">0.74205</text>
<text x="1601.6" y="316" font-size="10" fill="#000" text-rendering="geometricPrecision" stroke="#000" stroke-width="0.15" textLength="33.6" lengthAdjust="spacingAndGlyphs">0.73620</text>
<text x="1601.6" y="349" font-size="10" fill="#000" text-rendering="geometricPrecision" stroke="#000" stroke-width="0.15" textLength="33.6" lengthAdjust="spacingAndGlyphs">0.73050</text>
<text x="1601.6" y="383" font-size="10" fill="#000" text-rendering="geometricPrecision" stroke="#000" stroke-width="0.15" textLength="33.6" lengthAdjust="spacingAndGlyphs">0.72465</text>
<text x="1601.6" y="415" font-size="10" fill="#000" text-rendering="geometricPrecision" stroke="#000" stroke-width="0.15" textLength="33.6" lengthAdjust="spacingAndGlyphs">0.71895</text>
<text x="1601.6" y="448" font-size="10" fill="#000" text-rendering="geometricPrecision" stroke="#000" stroke-width="0.15" textLength="33.6" lengthAdjust="spacingAndGlyphs">0.71325</text>
<text x="1601.6" y="481" font-size="10" fill="#000" text-rendering="geometricPrecision" stroke="#000" stroke-width="0.15" textLength="33.6" lengthAdjust="spacingAndGlyphs">0.70740</text>
<text x="1601.6" y="514" font-size="10" fill="#000" text-rendering="geometricPrecision" stroke="#000" stroke-width="0.15" textLength="33.6" lengthAdjust="spacingAndGlyphs">0.70170</text>
<text x="1601.6" y="547" font-size="10" fill="#000" text-rendering="geometricPrecision" stroke="#000" stroke-width="0.15" textLength="33.6" lengthAdjust="spacingAndGlyphs">0.69585</text>
<text x="1601.6" y="580" font-size="10" fill="#000" text-rendering="geometricPrecision" stroke="#000" stroke-width="0.15" textLength="33.6" lengthAdjust="spacingAndGlyphs">0.69015</text>
<g shape-rendering="crispEdges">
<rect x="1598" y="55" width="40" height="11" fill="#ff0000"/>
<rect x="1598" y="112" width="40" height="11" fill="#00ff00"/>
<rect x="1598" y="170" width="40" height="11" fill="#0000ff"/>
<rect x="1598" y="227" width="40" height="11" fill="#0000ff"/>
<rect x="1598" y="284" width="40" height="11" fill="#0000ff"/>
<rect x="1598" y="81" width="40" height="11" fill="#000"/>
</g>
<text x="1601.6" y="64" font-size="10" fill="#fff" text-rendering="geometricPrecision" stroke="#fff" stroke-width="0.15" textLength="33.6" lengthAdjust="spacingAndGlyphs">0.78007</text>
<text x="1601.6" y="121" font-size="10" fill="#fff" text-rendering="geometricPrecision" stroke="#fff" stroke-width="0.15" textLength="33.6" lengthAdjust="spacingAndGlyphs">0.77008</text>
<text x="1601.6" y="179" font-size="10" fill="#fff" text-rendering="geometricPrecision" stroke="#fff" stroke-width="0.15" textLength="33.6" lengthAdjust="spacingAndGlyphs">0.76009</text>
<text x="1601.6" y="236" font-size="10" fill="#fff" text-rendering="geometricPrecision" stroke="#fff" stroke-width="0.15" textLength="33.6" lengthAdjust="spacingAndGlyphs">0.75010</text>
<text x="1601.6" y="293" font-size="10" fill="#fff" text-rendering="geometricPrecision" stroke="#fff" stroke-width="0.15" textLength="33.6" lengthAdjust="spacingAndGlyphs">0.74011</text>
<text x="1601.6" y="90" font-size="10" fill="#fff" text-rendering="geometricPrecision" stroke="#fff" stroke-width="0.15" textLength="33.6" lengthAdjust="spacingAndGlyphs">0.77575</text>
<path d="M7 30 L14 30 L10.5 34 Z" fill="#000"/>
<text x="19.8" y="35" font-size="10" fill="#000" text-rendering="geometricPrecision" stroke="#000" stroke-width="0.15" textLength="65" lengthAdjust="spacingAndGlyphs">AUDUSD,Daily</text>
<text x="91.1" y="35" font-size="10" fill="#000" text-rendering="geometricPrecision" stroke="#000" stroke-width="0.15" textLength="140.4" lengthAdjust="spacingAndGlyphs">0.77477 0.77723 0.77369 0.77575</text>
<g shape-rendering="crispEdges">
<g clip-path="url(#cr)">
<line x1="4" y1="612.5" x2="1596" y2="612.5" stroke="#c0c0c0" stroke-dasharray="3 3"/>
<line x1="4" y1="652.5" x2="1596" y2="652.5" stroke="#c0c0c0" stroke-dasharray="3 3"/>
<polyline points="4.5,618.5 12.5,619.5 20.5,621.5 28.5,621.5 36.5,623.5 44.5,619.5 52.5,621.5 60.5,617.5 68.5,616.5 76.5,620.5 84.5,619.5 92.5,618.5 100.5,607.5 108.5,605.5 116.5,607.5 124.5,616.5 132.5,616.5 140.5,612.5 148.5,610.5 156.5,610.5 164.5,616.5 172.5,614.5 180.5,616.5 188.5,624.5 196.5,619.5 204.5,613.5 212.5,612.5 220.5,623.5 228.5,625.5 236.5,624.5 244.5,625.5 252.5,624.5 260.5,624.5 268.5,624.5 276.5,622.5 284.5,618.5 292.5,615.5 300.5,615.5 308.5,627.5 316.5,630.5 324.5,630.5 332.5,628.5 340.5,627.5 348.5,622.5 356.5,617.5 364.5,608.5 372.5,608.5 380.5,607.5 388.5,610.5 396.5,619.5 404.5,627.5 412.5,627.5 420.5,624.5 428.5,626.5 436.5,633.5 444.5,629.5 452.5,627.5 460.5,628.5 468.5,628.5 476.5,626.5 484.5,626.5 492.5,622.5 500.5,629.5 508.5,626.5 516.5,628.5 524.5,639.5 532.5,643.5 540.5,650.5 548.5,653.5 556.5,655.5 564.5,652.5 572.5,647.5 580.5,641.5 588.5,636.5 596.5,632.5 604.5,636.5 612.5,635.5 620.5,633.5 628.5,636.5 636.5,637.5 644.5,635.5 652.5,626.5 660.5,626.5 668.5,630.5 676.5,635.5 684.5,634.5 692.5,643.5 700.5,643.5 708.5,642.5 716.5,642.5 724.5,646.5 732.5,636.5 740.5,637.5 748.5,636.5 756.5,634.5 764.5,636.5 772.5,632.5 780.5,641.5 788.5,647.5 796.5,646.5 804.5,645.5 812.5,642.5 820.5,626.5 828.5,628.5 836.5,619.5 844.5,618.5 852.5,620.5 860.5,616.5 868.5,620.5 876.5,621.5 884.5,621.5 892.5,624.5 900.5,622.5 908.5,616.5 916.5,619.5 924.5,618.5 932.5,626.5 940.5,623.5 948.5,623.5 956.5,626.5 964.5,621.5 972.5,619.5 980.5,618.5 988.5,615.5 996.5,617.5 1004.5,620.5 1012.5,624.5 1020.5,620.5 1028.5,614.5 1036.5,616.5 1044.5,615.5 1052.5,615.5 1060.5,621.5 1068.5,617.5 1076.5,611.5 1084.5,610.5 1092.5,610.5 1100.5,610.5 1108.5,609.5 1116.5,607.5 1124.5,603.5 1132.5,606.5 1140.5,605.5 1148.5,618.5 1156.5,625.5 1164.5,618.5 1172.5,617.5 1180.5,617.5 1188.5,622.5 1196.5,617.5 1204.5,611.5 1212.5,610.5 1220.5,614.5 1228.5,615.5 1236.5,612.5 1244.5,609.5 1252.5,613.5 1260.5,612.5" fill="none" stroke="#1e90ff" stroke-width="1"/>
</g>
<rect x="1597" y="583" width="2" height="1" fill="#000"/>
<rect x="1597" y="682" width="2" height="1" fill="#000"/>
</g>
<text x="8.2" y="594" font-size="10" fill="#000" text-rendering="geometricPrecision" stroke="#000" stroke-width="0.15" textLength="67.5" lengthAdjust="spacingAndGlyphs">RSI(14) 70.4331</text>
<text x="1600.5" y="592" font-size="10" fill="#000" text-rendering="geometricPrecision" stroke="#000" stroke-width="0.15" textLength="14.2" lengthAdjust="spacingAndGlyphs">100</text>
<text x="1600.5" y="616" font-size="10" fill="#000" text-rendering="geometricPrecision" stroke="#000" stroke-width="0.15" textLength="8.6" lengthAdjust="spacingAndGlyphs">70</text>
<text x="1600.5" y="656" font-size="10" fill="#000" text-rendering="geometricPrecision" stroke="#000" stroke-width="0.15" textLength="8.6" lengthAdjust="spacingAndGlyphs">30</text>
<text x="1600.5" y="680" font-size="10" fill="#000" text-rendering="geometricPrecision" stroke="#000" stroke-width="0.15" textLength="4.6" lengthAdjust="spacingAndGlyphs">0</text>
<g shape-rendering="crispEdges">
<g clip-path="url(#cd)">
<rect x="4" y="717" width="1" height="30" fill="#c0c0c0"/>
<rect x="12" y="716" width="1" height="31" fill="#c0c0c0"/>
<rect x="20" y="717" width="1" height="30" fill="#c0c0c0"/>
<rect x="28" y="718" width="1" height="29" fill="#c0c0c0"/>
<rect x="36" y="720" width="1" height="27" fill="#c0c0c0"/>
<rect x="44" y="719" width="1" height="28" fill="#c0c0c0"/>
<rect x="52" y="720" width="1" height="27" fill="#c0c0c0"/>
<rect x="60" y="719" width="1" height="28" fill="#c0c0c0"/>
<rect x="68" y="718" width="1" height="29" fill="#c0c0c0"/>
<rect x="76" y="719" width="1" height="28" fill="#c0c0c0"/>
<rect x="84" y="719" width="1" height="28" fill="#c0c0c0"/>
<rect x="92" y="720" width="1" height="27" fill="#c0c0c0"/>
<rect x="100" y="714" width="1" height="33" fill="#c0c0c0"/>
<rect x="108" y="709" width="1" height="38" fill="#c0c0c0"/>
<rect x="116" y="705" width="1" height="42" fill="#c0c0c0"/>
<rect x="124" y="705" width="1" height="42" fill="#c0c0c0"/>
<rect x="132" y="706" width="1" height="41" fill="#c0c0c0"/>
<rect x="140" y="705" width="1" height="42" fill="#c0c0c0"/>
<rect x="148" y="703" width="1" height="44" fill="#c0c0c0"/>
<rect x="156" y="701" width="1" height="46" fill="#c0c0c0"/>
<rect x="164" y="702" width="1" height="45" fill="#c0c0c0"/>
<rect x="172" y="703" width="1" height="44" fill="#c0c0c0"/>
<rect x="180" y="704" width="1" height="43" fill="#c0c0c0"/>
<rect x="188" y="707" width="1" height="40" fill="#c0c0c0"/>
<rect x="196" y="709" width="1" height="38" fill="#c0c0c0"/>
<rect x="204" y="706" width="1" height="41" fill="#c0c0c0"/>
<rect x="212" y="704" width="1" height="43" fill="#c0c0c0"/>
<rect x="220" y="707" width="1" height="40" fill="#c0c0c0"/>
<rect x="228" y="710" width="1" height="37" fill="#c0c0c0"/>
<rect x="236" y="712" width="1" height="35" fill="#c0c0c0"/>
<rect x="244" y="714" width="1" height="33" fill="#c0c0c0"/>
<rect x="252" y="716" width="1" height="31" fill="#c0c0c0"/>
<rect x="260" y="718" width="1" height="29" fill="#c0c0c0"/>
<rect x="268" y="720" width="1" height="27" fill="#c0c0c0"/>
<rect x="276" y="721" width="1" height="26" fill="#c0c0c0"/>
<rect x="284" y="720" width="1" height="27" fill="#c0c0c0"/>
<rect x="292" y="718" width="1" height="29" fill="#c0c0c0"/>
<rect x="300" y="716" width="1" height="31" fill="#c0c0c0"/>
<rect x="308" y="720" width="1" height="27" fill="#c0c0c0"/>
<rect x="316" y="724" width="1" height="23" fill="#c0c0c0"/>
<rect x="324" y="727" width="1" height="20" fill="#c0c0c0"/>
<rect x="332" y="728" width="1" height="19" fill="#c0c0c0"/>
<rect x="340" y="730" width="1" height="17" fill="#c0c0c0"/>
<rect x="348" y="728" width="1" height="19" fill="#c0c0c0"/>
<rect x="356" y="726" width="1" height="21" fill="#c0c0c0"/>
<rect x="364" y="719" width="1" height="28" fill="#c0c0c0"/>
<rect x="372" y="713" width="1" height="34" fill="#c0c0c0"/>
<rect x="380" y="708" width="1" height="39" fill="#c0c0c0"/>
<rect x="388" y="704" width="1" height="43" fill="#c0c0c0"/>
<rect x="396" y="706" width="1" height="41" fill="#c0c0c0"/>
<rect x="404" y="709" width="1" height="38" fill="#c0c0c0"/>
<rect x="412" y="714" width="1" height="33" fill="#c0c0c0"/>
<rect x="420" y="715" width="1" height="32" fill="#c0c0c0"/>
<rect x="428" y="718" width="1" height="29" fill="#c0c0c0"/>
<rect x="436" y="723" width="1" height="24" fill="#c0c0c0"/>
<rect x="444" y="725" width="1" height="22" fill="#c0c0c0"/>
<rect x="452" y="726" width="1" height="21" fill="#c0c0c0"/>
<rect x="460" y="727" width="1" height="20" fill="#c0c0c0"/>
<rect x="468" y="729" width="1" height="18" fill="#c0c0c0"/>
<rect x="476" y="729" width="1" height="18" fill="#c0c0c0"/>
<rect x="484" y="730" width="1" height="17" fill="#c0c0c0"/>
<rect x="492" y="728" width="1" height="19" fill="#c0c0c0"/>
<rect x="500" y="729" width="1" height="18" fill="#c0c0c0"/>
<rect x="508" y="730" width="1" height="17" fill="#c0c0c0"/>
<rect x="516" y="731" width="1" height="16" fill="#c0c0c0"/>
<rect x="524" y="736" width="1" height="11" fill="#c0c0c0"/>
<rect x="532" y="743" width="1" height="4" fill="#c0c0c0"/>
<rect x="540" y="746" width="1" height="7" fill="#c0c0c0"/>
<rect x="548" y="746" width="1" height="17" fill="#c0c0c0"/>
<rect x="556" y="746" width="1" height="27" fill="#c0c0c0"/>
<rect x="564" y="746" width="1" height="34" fill="#c0c0c0"/>
<rect x="572" y="746" width="1" height="36" fill="#c0c0c0"/>
<rect x="580" y="746" width="1" height="35" fill="#c0c0c0"/>
<rect x="588" y="746" width="1" height="31" fill="#c0c0c0"/>
<rect x="596" y="746" width="1" height="27" fill="#c0c0c0"/>
<rect x="604" y="746" width="1" height="25" fill="#c0c0c0"/>
<rect x="612" y="746" width="1" height="21" fill="#c0c0c0"/>
<rect x="620" y="746" width="1" height="19" fill="#c0c0c0"/>
<rect x="628" y="746" width="1" height="18" fill="#c0c0c0"/>
<rect x="636" y="746" width="1" height="18" fill="#c0c0c0"/>
<rect x="644" y="746" width="1" height="16" fill="#c0c0c0"/>
<rect x="652" y="746" width="1" height="10" fill="#c0c0c0"/>
<rect x="660" y="746" width="1" height="6" fill="#c0c0c0"/>
<rect x="668" y="746" width="1" height="4" fill="#c0c0c0"/>
<rect x="676" y="746" width="1" height="4" fill="#c0c0c0"/>
<rect x="684" y="746" width="1" height="5" fill="#c0c0c0"/>
<rect x="692" y="746" width="1" height="10" fill="#c0c0c0"/>
<rect x="700" y="746" width="1" height="14" fill="#c0c0c0"/>
<rect x="708" y="746" width="1" height="16" fill="#c0c0c0"/>
<rect x="716" y="746" width="1" height="18" fill="#c0c0c0"/>
<rect x="724" y="746" width="1" height="21" fill="#c0c0c0"/>
<rect x="732" y="746" width="1" height="19" fill="#c0c0c0"/>
<rect x="740" y="746" width="1" height="19" fill="#c0c0c0"/>
<rect x="748" y="746" width="1" height="16" fill="#c0c0c0"/>
<rect x="756" y="746" width="1" height="15" fill="#c0c0c0"/>
<rect x="764" y="746" width="1" height="14" fill="#c0c0c0"/>
<rect x="772" y="746" width="1" height="12" fill="#c0c0c0"/>
<rect x="780" y="746" width="1" height="15" fill="#c0c0c0"/>
<rect x="788" y="746" width="1" height="19" fill="#c0c0c0"/>
<rect x="796" y="746" width="1" height="23" fill="#c0c0c0"/>
<rect x="804" y="746" width="1" height="23" fill="#c0c0c0"/>
<rect x="812" y="746" width="1" height="25" fill="#c0c0c0"/>
<rect x="820" y="746" width="1" height="18" fill="#c0c0c0"/>
<rect x="828" y="746" width="1" height="12" fill="#c0c0c0"/>
<rect x="844" y="740" width="1" height="7" fill="#c0c0c0"/>
<rect x="852" y="734" width="1" height="13" fill="#c0c0c0"/>
<rect x="860" y="728" width="1" height="19" fill="#c0c0c0"/>
<rect x="868" y="724" width="1" height="23" fill="#c0c0c0"/>
<rect x="876" y="722" width="1" height="25" fill="#c0c0c0"/>
<rect x="884" y="721" width="1" height="26" fill="#c0c0c0"/>
<rect x="892" y="722" width="1" height="25" fill="#c0c0c0"/>
<rect x="900" y="721" width="1" height="26" fill="#c0c0c0"/>
<rect x="908" y="718" width="1" height="29" fill="#c0c0c0"/>
<rect x="916" y="717" width="1" height="30" fill="#c0c0c0"/>
<rect x="924" y="715" width="1" height="32" fill="#c0c0c0"/>
<rect x="932" y="717" width="1" height="30" fill="#c0c0c0"/>
<rect x="940" y="718" width="1" height="29" fill="#c0c0c0"/>
<rect x="948" y="718" width="1" height="29" fill="#c0c0c0"/>
<rect x="956" y="719" width="1" height="28" fill="#c0c0c0"/>
<rect x="964" y="716" width="1" height="31" fill="#c0c0c0"/>
<rect x="972" y="717" width="1" height="30" fill="#c0c0c0"/>
<rect x="980" y="715" width="1" height="32" fill="#c0c0c0"/>
<rect x="988" y="712" width="1" height="35" fill="#c0c0c0"/>
<rect x="996" y="711" width="1" height="36" fill="#c0c0c0"/>
<rect x="1004" y="712" width="1" height="35" fill="#c0c0c0"/>
<rect x="1012" y="715" width="1" height="32" fill="#c0c0c0"/>
<rect x="1020" y="715" width="1" height="32" fill="#c0c0c0"/>
<rect x="1028" y="711" width="1" height="36" fill="#c0c0c0"/>
<rect x="1036" y="710" width="1" height="37" fill="#c0c0c0"/>
<rect x="1044" y="709" width="1" height="38" fill="#c0c0c0"/>
<rect x="1052" y="708" width="1" height="39" fill="#c0c0c0"/>
<rect x="1060" y="711" width="1" height="36" fill="#c0c0c0"/>
<rect x="1068" y="710" width="1" height="37" fill="#c0c0c0"/>
<rect x="1076" y="706" width="1" height="41" fill="#c0c0c0"/>
<rect x="1084" y="703" width="1" height="44" fill="#c0c0c0"/>
<rect x="1092" y="701" width="1" height="46" fill="#c0c0c0"/>
<rect x="1100" y="699" width="1" height="48" fill="#c0c0c0"/>
<rect x="1108" y="699" width="1" height="48" fill="#c0c0c0"/>
<rect x="1116" y="698" width="1" height="49" fill="#c0c0c0"/>
<rect x="1124" y="695" width="1" height="52" fill="#c0c0c0"/>
<rect x="1132" y="693" width="1" height="54" fill="#c0c0c0"/>
<rect x="1140" y="692" width="1" height="55" fill="#c0c0c0"/>
<rect x="1148" y="695" width="1" height="52" fill="#c0c0c0"/>
<rect x="1156" y="700" width="1" height="47" fill="#c0c0c0"/>
<rect x="1164" y="702" width="1" height="45" fill="#c0c0c0"/>
<rect x="1172" y="702" width="1" height="45" fill="#c0c0c0"/>
<rect x="1180" y="703" width="1" height="44" fill="#c0c0c0"/>
<rect x="1188" y="706" width="1" height="41" fill="#c0c0c0"/>
<rect x="1196" y="706" width="1" height="41" fill="#c0c0c0"/>
<rect x="1204" y="703" width="1" height="44" fill="#c0c0c0"/>
<rect x="1212" y="699" width="1" height="48" fill="#c0c0c0"/>
<rect x="1220" y="698" width="1" height="49" fill="#c0c0c0"/>
<rect x="1228" y="698" width="1" height="49" fill="#c0c0c0"/>
<rect x="1236" y="696" width="1" height="51" fill="#c0c0c0"/>
<rect x="1244" y="693" width="1" height="54" fill="#c0c0c0"/>
<rect x="1252" y="692" width="1" height="55" fill="#c0c0c0"/>
<rect x="1260" y="692" width="1" height="55" fill="#c0c0c0"/>
<polyline points="4.5,718.5 12.5,718.5 20.5,718.5 28.5,718.5 36.5,718.5 44.5,718.5 52.5,717.5 60.5,717.5 68.5,717.5 76.5,718.5 84.5,718.5 92.5,718.5 100.5,718.5 108.5,717.5 116.5,715.5 124.5,714.5 132.5,712.5 140.5,711.5 148.5,709.5 156.5,706.5 164.5,705.5 172.5,704.5 180.5,704.5 188.5,704.5 196.5,704.5 204.5,704.5 212.5,704.5 220.5,704.5 228.5,705.5 236.5,706.5 244.5,707.5 252.5,708.5 260.5,709.5 268.5,711.5 276.5,712.5 284.5,713.5 292.5,714.5 300.5,716.5 308.5,717.5 316.5,718.5 324.5,720.5 332.5,721.5 340.5,722.5 348.5,723.5 356.5,723.5 364.5,723.5 372.5,723.5 380.5,721.5 388.5,719.5 396.5,717.5 404.5,715.5 412.5,714.5 420.5,713.5 428.5,712.5 436.5,712.5 444.5,712.5 452.5,714.5 460.5,717.5 468.5,721.5 476.5,722.5 484.5,724.5 492.5,725.5 500.5,726.5 508.5,727.5 516.5,728.5 524.5,730.5 532.5,731.5 540.5,733.5 548.5,738.5 556.5,743.5 564.5,748.5 572.5,754.5 580.5,759.5 588.5,764.5 596.5,768.5 604.5,771.5 612.5,773.5 620.5,773.5 628.5,772.5 636.5,772.5 644.5,769.5 652.5,767.5 660.5,763.5 668.5,760.5 676.5,758.5 684.5,756.5 692.5,756.5 700.5,755.5 708.5,755.5 716.5,755.5 724.5,756.5 732.5,757.5 740.5,759.5 748.5,760.5 756.5,761.5 764.5,762.5 772.5,763.5 780.5,763.5 788.5,763.5 796.5,763.5 804.5,763.5 812.5,764.5 820.5,763.5 828.5,763.5 836.5,762.5 844.5,760.5 852.5,756.5 860.5,752.5 868.5,747.5 876.5,742.5 884.5,737.5 892.5,731.5 900.5,728.5 908.5,725.5 916.5,722.5 924.5,720.5 932.5,719.5 940.5,718.5 948.5,718.5 956.5,717.5 964.5,716.5 972.5,716.5 980.5,716.5 988.5,715.5 996.5,715.5 1004.5,715.5 1012.5,715.5 1020.5,714.5 1028.5,714.5 1036.5,713.5 1044.5,711.5 1052.5,710.5 1060.5,710.5 1068.5,710.5 1076.5,709.5 1084.5,708.5 1092.5,706.5 1100.5,705.5 1108.5,705.5 1116.5,704.5 1124.5,702.5 1132.5,699.5 1140.5,698.5 1148.5,697.5 1156.5,697.5 1164.5,697.5 1172.5,697.5 1180.5,697.5 1188.5,698.5 1196.5,700.5 1204.5,700.5 1212.5,701.5 1220.5,701.5 1228.5,701.5 1236.5,700.5 1244.5,700.5 1252.5,698.5 1260.5,696.5" fill="none" stroke="#ff0000" stroke-width="1" stroke-dasharray="3 3"/>
</g>
<rect x="1597" y="687" width="2" height="1" fill="#000"/>
<rect x="1597" y="746" width="2" height="1" fill="#000"/>
<rect x="1597" y="785" width="2" height="1" fill="#000"/>
</g>
<text x="8.2" y="698" font-size="10" fill="#000" text-rendering="geometricPrecision" stroke="#000" stroke-width="0.15" textLength="147.7" lengthAdjust="spacingAndGlyphs">MACD(12,26,9) 0.007997 0.007204</text>
<text x="1600" y="696" font-size="10" fill="#000" text-rendering="geometricPrecision" stroke="#000" stroke-width="0.15" textLength="38.5" lengthAdjust="spacingAndGlyphs">0.008647</text>
<text x="1600.2" y="750" font-size="10" fill="#000" text-rendering="geometricPrecision" stroke="#000" stroke-width="0.15" textLength="17.6" lengthAdjust="spacingAndGlyphs">0.00</text>
<text x="1600" y="783" font-size="10" fill="#000" text-rendering="geometricPrecision" stroke="#000" stroke-width="0.15" textLength="41.6" lengthAdjust="spacingAndGlyphs">-0.005642</text>
<g shape-rendering="crispEdges">
<rect x="4" y="787" width="1" height="3" fill="#000"/>
<rect x="68" y="787" width="1" height="3" fill="#000"/>
<rect x="132" y="787" width="1" height="3" fill="#000"/>
<rect x="196" y="787" width="1" height="3" fill="#000"/>
<rect x="260" y="787" width="1" height="3" fill="#000"/>
<rect x="324" y="787" width="1" height="3" fill="#000"/>
<rect x="388" y="787" width="1" height="3" fill="#000"/>
<rect x="452" y="787" width="1" height="3" fill="#000"/>
<rect x="516" y="787" width="1" height="3" fill="#000"/>
<rect x="580" y="787" width="1" height="3" fill="#000"/>
<rect x="644" y="787" width="1" height="3" fill="#000"/>
<rect x="708" y="787" width="1" height="3" fill="#000"/>
<rect x="772" y="787" width="1" height="3" fill="#000"/>
<rect x="836" y="787" width="1" height="3" fill="#000"/>
<rect x="900" y="787" width="1" height="3" fill="#000"/>
<rect x="964" y="787" width="1" height="3" fill="#000"/>
<rect x="1028" y="787" width="1" height="3" fill="#000"/>
<rect x="1092" y="787" width="1" height="3" fill="#000"/>
<rect x="1156" y="787" width="1" height="3" fill="#000"/>
<rect x="1220" y="787" width="1" height="3" fill="#000"/>
</g>
<text x="4.2" y="799" font-size="10" fill="#000" text-rendering="geometricPrecision" stroke="#000" stroke-width="0.15" textLength="41" lengthAdjust="spacingAndGlyphs">7 Jul 2020</text>
<text x="68.2" y="799" font-size="10" fill="#000" text-rendering="geometricPrecision" stroke="#000" stroke-width="0.15" textLength="45.8" lengthAdjust="spacingAndGlyphs">16 Jul 2020</text>
<text x="132.2" y="799" font-size="10" fill="#000" text-rendering="geometricPrecision" stroke="#000" stroke-width="0.15" textLength="45.8" lengthAdjust="spacingAndGlyphs">25 Jul 2020</text>
<text x="196.2" y="799" font-size="10" fill="#000" text-rendering="geometricPrecision" stroke="#000" stroke-width="0.15" textLength="47.8" lengthAdjust="spacingAndGlyphs">4 Aug 2020</text>
<text x="260.2" y="799" font-size="10" fill="#000" text-rendering="geometricPrecision" stroke="#000" stroke-width="0.15" textLength="52.5" lengthAdjust="spacingAndGlyphs">13 Aug 2020</text>
<text x="324.2" y="799" font-size="10" fill="#000" text-rendering="geometricPrecision" stroke="#000" stroke-width="0.15" textLength="52.5" lengthAdjust="spacingAndGlyphs">22 Aug 2020</text>
<text x="388.2" y="799" font-size="10" fill="#000" text-rendering="geometricPrecision" stroke="#000" stroke-width="0.15" textLength="46.3" lengthAdjust="spacingAndGlyphs">1 Sep 2020</text>
<text x="452.2" y="799" font-size="10" fill="#000" text-rendering="geometricPrecision" stroke="#000" stroke-width="0.15" textLength="51.4" lengthAdjust="spacingAndGlyphs">10 Sep 2020</text>
<text x="516.2" y="799" font-size="10" fill="#000" text-rendering="geometricPrecision" stroke="#000" stroke-width="0.15" textLength="51.1" lengthAdjust="spacingAndGlyphs">19 Sep 2020</text>
<text x="580.2" y="799" font-size="10" fill="#000" text-rendering="geometricPrecision" stroke="#000" stroke-width="0.15" textLength="52" lengthAdjust="spacingAndGlyphs">29 Sep 2020</text>
<text x="644.2" y="799" font-size="10" fill="#000" text-rendering="geometricPrecision" stroke="#000" stroke-width="0.15" textLength="45.5" lengthAdjust="spacingAndGlyphs">8 Oct 2020</text>
<text x="708.2" y="799" font-size="10" fill="#000" text-rendering="geometricPrecision" stroke="#000" stroke-width="0.15" textLength="51" lengthAdjust="spacingAndGlyphs">17 Oct 2020</text>
<text x="772.2" y="799" font-size="10" fill="#000" text-rendering="geometricPrecision" stroke="#000" stroke-width="0.15" textLength="50.8" lengthAdjust="spacingAndGlyphs">27 Oct 2020</text>
<text x="836.2" y="799" font-size="10" fill="#000" text-rendering="geometricPrecision" stroke="#000" stroke-width="0.15" textLength="49" lengthAdjust="spacingAndGlyphs">5 Nov 2020</text>
<text x="900.2" y="799" font-size="10" fill="#000" text-rendering="geometricPrecision" stroke="#000" stroke-width="0.15" textLength="53.4" lengthAdjust="spacingAndGlyphs">14 Nov 2020</text>
<text x="964.2" y="799" font-size="10" fill="#000" text-rendering="geometricPrecision" stroke="#000" stroke-width="0.15" textLength="53.7" lengthAdjust="spacingAndGlyphs">24 Nov 2020</text>
<text x="1028.2" y="799" font-size="10" fill="#000" text-rendering="geometricPrecision" stroke="#000" stroke-width="0.15" textLength="46.3" lengthAdjust="spacingAndGlyphs">3 Dec 2020</text>
<text x="1092.2" y="799" font-size="10" fill="#000" text-rendering="geometricPrecision" stroke="#000" stroke-width="0.15" textLength="51.4" lengthAdjust="spacingAndGlyphs">12 Dec 2020</text>
<text x="1156.2" y="799" font-size="10" fill="#000" text-rendering="geometricPrecision" stroke="#000" stroke-width="0.15" textLength="51.2" lengthAdjust="spacingAndGlyphs">22 Dec 2020</text>
<text x="1220.2" y="799" font-size="10" fill="#000" text-rendering="geometricPrecision" stroke="#000" stroke-width="0.15" textLength="43.8" lengthAdjust="spacingAndGlyphs">1 Jan 2021</text>
<g shape-rendering="crispEdges">
<rect x="0" y="808" width="1638" height="20" fill="#f0f0f0"/>
<rect x="0" y="808" width="1638" height="1" fill="#ffffff"/>
<rect x="0" y="809" width="1638" height="1" fill="#000"/>
<rect x="0" y="808" width="1" height="20" fill="#696969"/>
<rect x="210" y="808" width="102" height="19" fill="#ffffff"/>
<rect x="209" y="809" width="1" height="19" fill="#000"/>
<rect x="312" y="809" width="1" height="19" fill="#000"/>
<rect x="209" y="827" width="104" height="1" fill="#000"/>
<rect x="110" y="813" width="1" height="13" fill="#808080"/>
<rect x="417" y="813" width="1" height="13" fill="#808080"/>
<rect x="521" y="813" width="1" height="13" fill="#808080"/>
<rect x="625" y="813" width="1" height="13" fill="#808080"/>
<rect x="717" y="813" width="1" height="13" fill="#808080"/>
<rect x="810" y="813" width="1" height="13" fill="#808080"/>
<rect x="881" y="813" width="1" height="13" fill="#808080"/>
<rect x="961" y="813" width="1" height="13" fill="#808080"/>
<rect x="1041" y="813" width="1" height="13" fill="#808080"/>
<rect x="1121" y="813" width="1" height="13" fill="#808080"/>
<rect x="1197" y="813" width="1" height="13" fill="#808080"/>
<rect x="1297" y="813" width="1" height="13" fill="#808080"/>
<rect x="1381" y="813" width="1" height="13" fill="#808080"/>
<rect x="1461" y="813" width="1" height="13" fill="#808080"/>
<rect x="1561" y="813" width="1" height="13" fill="#808080"/>
</g>
<text x="17.4" y="824" font-size="12" fill="#6d6d6d" textLength="79.6" lengthAdjust="spacingAndGlyphs">EURUSD,Daily</text>
<text x="119.5" y="824" font-size="12" fill="#6d6d6d" textLength="78.5" lengthAdjust="spacingAndGlyphs">USDCHF,Daily</text>
<text x="220.5" y="824" font-size="12" fill="#000" textLength="81.5" lengthAdjust="spacingAndGlyphs">AUDUSD,Daily</text>
<text x="324" y="824" font-size="12" fill="#6d6d6d" textLength="81" lengthAdjust="spacingAndGlyphs">USDCAD,Daily</text>
<text x="427.4" y="824" font-size="12" fill="#6d6d6d" textLength="82.3" lengthAdjust="spacingAndGlyphs">USDCNH,Daily</text>
<text x="533" y="824" font-size="12" fill="#6d6d6d" textLength="79.8" lengthAdjust="spacingAndGlyphs">EURUSD,Daily</text>
<text x="637" y="824" font-size="12" fill="#6d6d6d" textLength="68" lengthAdjust="spacingAndGlyphs">GBPUSD,H4</text>
<text x="728" y="824" font-size="12" fill="#6d6d6d" textLength="68" lengthAdjust="spacingAndGlyphs">XAUUSD,H1</text>
<text x="820" y="824" font-size="12" fill="#6d6d6d" textLength="50" lengthAdjust="spacingAndGlyphs">HK50,H1</text>
<text x="892" y="824" font-size="12" fill="#6d6d6d" textLength="56" lengthAdjust="spacingAndGlyphs">UK100,H1</text>
<text x="972.6" y="824" font-size="12" fill="#6d6d6d" textLength="55.4" lengthAdjust="spacingAndGlyphs">UK100,H1</text>
<text x="1052" y="824" font-size="12" fill="#6d6d6d" textLength="56.5" lengthAdjust="spacingAndGlyphs">GER30,H1</text>
<text x="1131.5" y="824" font-size="12" fill="#6d6d6d" textLength="53.5" lengthAdjust="spacingAndGlyphs">FRA40,H1</text>
<text x="1208.5" y="824" font-size="12" fill="#6d6d6d" textLength="76.5" lengthAdjust="spacingAndGlyphs">USOil,Weekly</text>
<text x="1307" y="824" font-size="12" fill="#6d6d6d" textLength="63" lengthAdjust="spacingAndGlyphs">USDJPY,H1</text>
<text x="1391" y="824" font-size="12" fill="#6d6d6d" textLength="59" lengthAdjust="spacingAndGlyphs">DJ30,Daily</text>
<text x="1470.5" y="824" font-size="12" fill="#6d6d6d" textLength="78.5" lengthAdjust="spacingAndGlyphs">CHINA300,H1</text>
<text x="1571" y="824" font-size="12" fill="#6d6d6d" textLength="34" lengthAdjust="spacingAndGlyphs">USOil,</text>
<path d="M1616 814 L1612 818 L1616 822 Z" fill="#a0a0a0"/>
<path d="M1631 814 L1635 818 L1631 822 Z" fill="#000"/>
</svg></body></html>
